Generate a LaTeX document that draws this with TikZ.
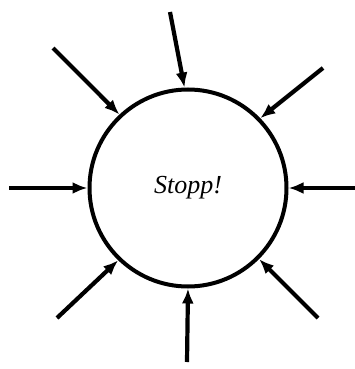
\documentclass[tikz,border=0pt]{standalone}
\usepackage{fontspec}
\setmainfont{Liberation Serif}
\usetikzlibrary{arrows.meta}
\begin{document}
\begin{tikzpicture}[x=1pt,y=-1pt,
  ring/.style={circle,draw,line width=4pt,minimum size=197pt,inner sep=0pt,
    font=\fontsize{26}{30}\selectfont\itshape},
  inarrow/.style={line width=4.2pt,-{Latex[length=15pt,width=12pt]}}]
\useasboundingbox (0,0) rectangle (355,369);
\node[ring] (c) at (188,188) {Stopp!};
\coordinate (s1) at (170,12);
\coordinate (s2) at (53,48);
\coordinate (s3) at (323,68);
\coordinate (s4) at (9,188);
\coordinate (s5) at (355,188);
\coordinate (s6) at (57,318);
\coordinate (s7) at (187,362);
\coordinate (s8) at (318,318);
\draw[inarrow] (s1) -- (c.92);
\draw[inarrow] (s2) -- (c.133);
\draw[inarrow] (s3) -- (c.44);
\draw[inarrow] (s4) -- (c.180);
\draw[inarrow] (s5) -- (c.0);
\draw[inarrow] (s6) -- (c.226);
\draw[inarrow] (s7) -- (c.270);
\draw[inarrow] (s8) -- (c.315);
\end{tikzpicture}
\end{document}
